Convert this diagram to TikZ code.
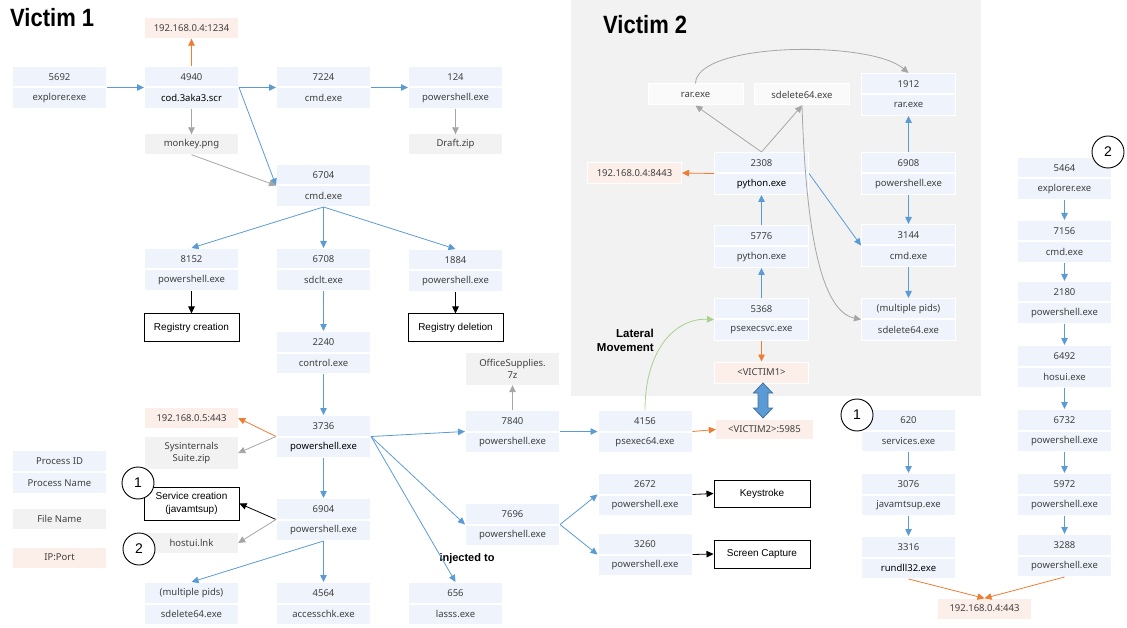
\documentclass[tikz,border=0pt]{standalone}
\usepackage{fontspec}
\setmainfont{Noto Sans}
\newfontfamily\titlefont[FakeStretch=0.88]{Liberation Sans}
\newfontfamily\arialfont{Liberation Sans}
\usetikzlibrary{arrows.meta}
\definecolor{pfill}{HTML}{EEF3FC}
\definecolor{ffill}{HTML}{F2F2F2}
\definecolor{ipfill}{HTML}{FCEEE8}
\definecolor{wfill}{HTML}{FAFAFA}
\definecolor{bluea}{HTML}{5B9BD5}
\definecolor{bluedark}{HTML}{41719C}
\definecolor{orangea}{HTML}{ED7D31}
\definecolor{graya}{HTML}{A6A6A6}
\definecolor{greena}{HTML}{A9D18E}
\definecolor{bgv}{HTML}{F2F2F2}
\definecolor{txt}{HTML}{404040}
\newcommand\bnm[1]{\textcolor{black}{\bfseries #1}}
\newcommand\proc[5]{%
  \node[pbox, anchor=north] (#1) at (#2,#3) {#4};
  \node[pbox, anchor=north] (#1b) at (#1.south) {#5};}
\tikzset{
  base/.style={inner sep=0pt, font=\fontsize{9.5}{12}\selectfont, text=txt, align=center},
  pbox/.style={base, fill=pfill, draw=white, line width=1pt, minimum width=94, minimum height=20.5},
  fbox/.style={base, fill=ffill, minimum width=93, minimum height=20},
  ipbox/.style={base, fill=ipfill, minimum width=93, minimum height=20},
  ipwbox/.style={ipbox, draw=white, line width=1pt, minimum width=94, minimum height=21},
  wbox/.style={base, fill=wfill, draw=white, line width=1pt, minimum width=95, minimum height=21},
  obox/.style={base, draw=black, line width=1pt, fill=white, text=black, minimum width=95, minimum height=27, font=\arialfont\fontsize{10}{12.5}\selectfont},
  num/.style={circle, draw=black, line width=0.9pt, fill=white, minimum size=32, inner sep=0pt, font=\arialfont\fontsize{14}{16}\selectfont},
  arr/.style={line width=0.8pt, -{Triangle[length=7pt,width=6.5pt]}},
  barr/.style={arr, draw=bluea},
  oarr/.style={arr, draw=orangea},
  garr/.style={arr, draw=graya},
  karr/.style={arr, draw=black},
  lmarr/.style={arr, draw=greena},
  bold/.style={inner sep=0pt, text=black, font=\arialfont\bfseries\fontsize{11}{14}\selectfont}
}
\begin{document}
\begin{tikzpicture}[x=1pt,y=-1pt]
\useasboundingbox (0,0) rectangle (1127,628);
\fill[bgv] (571,0) rectangle (981,396);
% titles
\node[inner sep=0pt, anchor=north west, font=\titlefont\bfseries\fontsize{25}{28}\selectfont] (t1) at (10,8) {Victim 1};
\node[inner sep=0pt, anchor=north west, font=\titlefont\bfseries\fontsize{25}{28}\selectfont] (t2) at (603,15) {Victim 2};
% victim 1 processes
\proc{v5692}{59.5}{66}{5692}{explorer.exe}
\proc{v4940}{191.5}{66}{4940}{\bnm{cod.3aka3.scr}}
\proc{v7224}{323.5}{66}{7224}{cmd.exe}
\proc{v124}{455.5}{66}{124}{powershell.exe}
\proc{v6704}{323.5}{164}{6704}{cmd.exe}
\proc{v8152}{191.5}{248}{8152}{powershell.exe}
\proc{v6708}{323.5}{248}{6708}{sdclt.exe}
\proc{v1884}{455.5}{249}{1884}{powershell.exe}
\proc{v2240}{323.5}{331}{2240}{control.exe}
\proc{v3736}{323.5}{415}{3736}{\bnm{powershell.exe}}
\proc{v6904}{323.5}{498}{6904}{powershell.exe}
\proc{vsd}{191.5}{582}{(multiple pids)}{sdelete64.exe}
\proc{v4564}{323.5}{582}{4564}{accesschk.exe}
\proc{v656}{455.5}{582}{656}{lasss.exe}
\proc{v7840}{512.5}{410}{7840}{powershell.exe}
\proc{v7696}{512.5}{503}{7696}{powershell.exe}
\proc{v4156}{645}{410}{4156}{psexec64.exe}
\proc{v2672}{645}{473}{2672}{powershell.exe}
\proc{v3260}{645}{533}{3260}{powershell.exe}
% victim 2 processes
\proc{w1912}{908.5}{73}{1912}{rar.exe}
\proc{w2308}{761.5}{152}{2308}{\bnm{python.exe}}
\proc{w6908}{908.5}{152}{6908}{powershell.exe}
\proc{w5776}{761.5}{225}{5776}{python.exe}
\proc{w3144}{908.5}{224}{3144}{cmd.exe}
\proc{w5368}{761.5}{298}{5368}{psexecsvc.exe}
\proc{wsd}{908.5}{298}{(multiple pids)}{sdelete64.exe}
% right side
\proc{r620}{908.5}{409}{620}{services.exe}
\proc{r3076}{908.5}{473}{3076}{javamtsup.exe}
\proc{r3316}{908.5}{536}{3316}{\bnm{rundll32.exe}}
\proc{r5464}{1064.5}{157}{5464}{explorer.exe}
\proc{r7156}{1064.5}{220}{7156}{cmd.exe}
\proc{r2180}{1064.5}{281}{2180}{powershell.exe}
\proc{r6492}{1064.5}{345}{6492}{hosui.exe}
\proc{r6732}{1064.5}{409}{6732}{powershell.exe}
\proc{r5972}{1064.5}{473}{5972}{powershell.exe}
\proc{r3288}{1064.5}{534}{3288}{powershell.exe}
% single nodes
\node[ipbox] (ip1234) at (191.5,28.5) {192.168.0.4:1234};
\node[fbox] (monkey) at (191.5,144.5) {monkey.png};
\node[fbox] (draft) at (455.5,144.5) {Draft.zip};
\node[obox] (regc) at (191.5,327.5) {Registry creation};
\node[obox] (regd) at (455.5,327.5) {Registry deletion};
\node[ipbox] (ip05) at (191.5,418) {192.168.0.5:443};
\node[fbox, minimum height=32] (sysint) at (191.5,453) {Sysinternals\\Suite.zip};
\node[obox, minimum height=33] (svc) at (191.5,503.5) {Service creation\\(javamtsup)};
\node[fbox] (hostui) at (191.5,543) {hostui.lnk};
\node[fbox, minimum height=32] (office) at (512.5,369) {OfficeSupplies.\\7z};
\node[ipbox, minimum width=97, minimum height=19] (vic2port) at (764.5,429.5) {<VICTIM2>:5985};
\node[obox, minimum width=96] (keys) at (762,493.5) {Keystroke};
\node[obox, minimum width=96, minimum height=28] (scap) at (762,554) {Screen Capture};
\node[pbox] (lgid) at (59.5,461) {Process ID};
\node[pbox] (lgname) at (59.5,483) {Process Name};
\node[fbox] (lgfile) at (59.5,518.5) {File Name};
\node[ipbox] (lgip) at (59.5,557.5) {IP:Port};
\node[wbox] (rar) at (695.5,94.5) {rar.exe};
\node[wbox] (sdel) at (802,94.5) {sdelete64.exe};
\node[ipwbox] (ip8443) at (634.5,173) {192.168.0.4:8443};
\node[ipwbox] (vic1) at (761.5,372.5) {<VICTIM1>};
\node[ipbox] (ip443) at (984.5,608.5) {192.168.0.4:443};
\node[bold] (inj) at (467,559) {injected to};
\node[bold, align=right, anchor=east, font=\arialfont\bfseries\fontsize{11.5}{14}\selectfont] (latm) at (654,340) {Lateral\\Movement};
% victim 1 edges
\draw[barr] (v5692.south east) -- (v4940.south west);
\draw[oarr] (v4940.north) -- (ip1234.south);
\draw[garr] (v4940b.south) -- (monkey.north);
\draw[barr] (v4940.south east) -- (v7224.south west);
\draw[barr] (v4940.south east) -- (v6704.south west);
\draw[garr] (monkey.south) -- (v6704.south west);
\draw[barr] (v7224.south east) -- (v124.south west);
\draw[garr] (v124b.south) -- (draft.north);
\draw[barr] (v6704b.south) -- (v8152.north);
\draw[barr] (v6704b.south) -- (v6708.north);
\draw[barr] (v6704b.south) -- (v1884.north);
\draw[karr] (v8152b.south) -- (regc.north);
\draw[karr] (v1884b.south) -- (regd.north);
\draw[barr] (v6708b.south) -- (v2240.north);
\draw[barr] (v2240b.south) -- (v3736.north);
\draw[oarr] (v3736.south west) -- (ip05.east);
\draw[garr] (v3736.south west) -- (sysint.east);
\draw[barr] (v3736b.south) -- (v6904.north);
\draw[barr] (v3736.south east) -- (v7840.south west);
\draw[barr] (v3736.south east) -- (v7696.south west);
\draw[barr] (v3736.south east) -- (v656.north);
\draw[karr] (v6904.south west) -- (svc.east);
\draw[garr] (v6904.south west) -- (hostui.east);
\draw[barr] (v6904b.south) -- (vsd.north);
\draw[barr] (v6904b.south) -- (v4564.north);
\draw[garr] (v7840.north) -- (office.south);
\draw[barr] (v7840.south east) -- (v4156.south west);
\draw[oarr] (v4156.south east) -- (vic2port.west);
\draw[barr] (v7696.south east) -- (v2672.south west);
\draw[barr] (v7696.south east) -- (v3260.south west);
\draw[karr] (v2672.south east) -- (keys.west);
\draw[karr] (v3260.south east) -- (scap.west);
\draw[lmarr] (v4156.north) .. controls (645,350) and (675,318) .. (w5368.south west);
% victim 2 edges
\draw[oarr] (w5368b.south) -- (vic1.north);
\draw[barr] (w5368.north) -- (w5776b.south);
\draw[barr] (w5776.north) -- (w2308b.south);
\draw[oarr] (w2308.south west) -- (ip8443.east);
\draw[garr] (w2308.north) -- (rar.south);
\draw[garr] (w2308.north) -- (sdel.south);
\draw[barr] (w2308.south east) -- (w3144.south west);
\draw[garr] (sdel.south) .. controls (805,200) and (815,310) .. (wsd.south west);
\draw[garr] (rar.north) .. controls (696,42) and (870,40) .. (w1912.north);
\draw[barr] (w6908.north) -- (w1912b.south);
\draw[barr] (w6908b.south) -- (w3144.north);
\draw[barr] (w3144b.south) -- (wsd.north);
% double arrow between victims
\draw[fill=bluea, draw=bluedark, line width=0.8pt, line join=miter]
  (763,383) -- (772.5,393) -- (768,393) -- (768,408) -- (772.5,408) -- (763,418)
  -- (753.5,408) -- (758,408) -- (758,393) -- (753.5,393) -- cycle;
% right chains
\draw[barr] (r620b.south) -- (r3076.north);
\draw[barr] (r3076b.south) -- (r3316.north);
\draw[oarr] (r3316b.south) -- (ip443.north);
\draw[barr] (r5464b.south) -- (r7156.north);
\draw[barr] (r7156b.south) -- (r2180.north);
\draw[barr] (r2180b.south) -- (r6492.north);
\draw[barr] (r6492b.south) -- (r6732.north);
\draw[barr] (r6732b.south) -- (r5972.north);
\draw[barr] (r5972b.south) -- (r3288.north);
\draw[oarr] (r3288b.south) -- (ip443.north);
% numbered circles
\node[num] (c1a) at (138,483) {1};
\node[num] (c2a) at (139,549) {2};
\node[num] (c1b) at (857,415) {1};
\node[num] (c2b) at (1108,152) {2};
\end{tikzpicture}
\end{document}
